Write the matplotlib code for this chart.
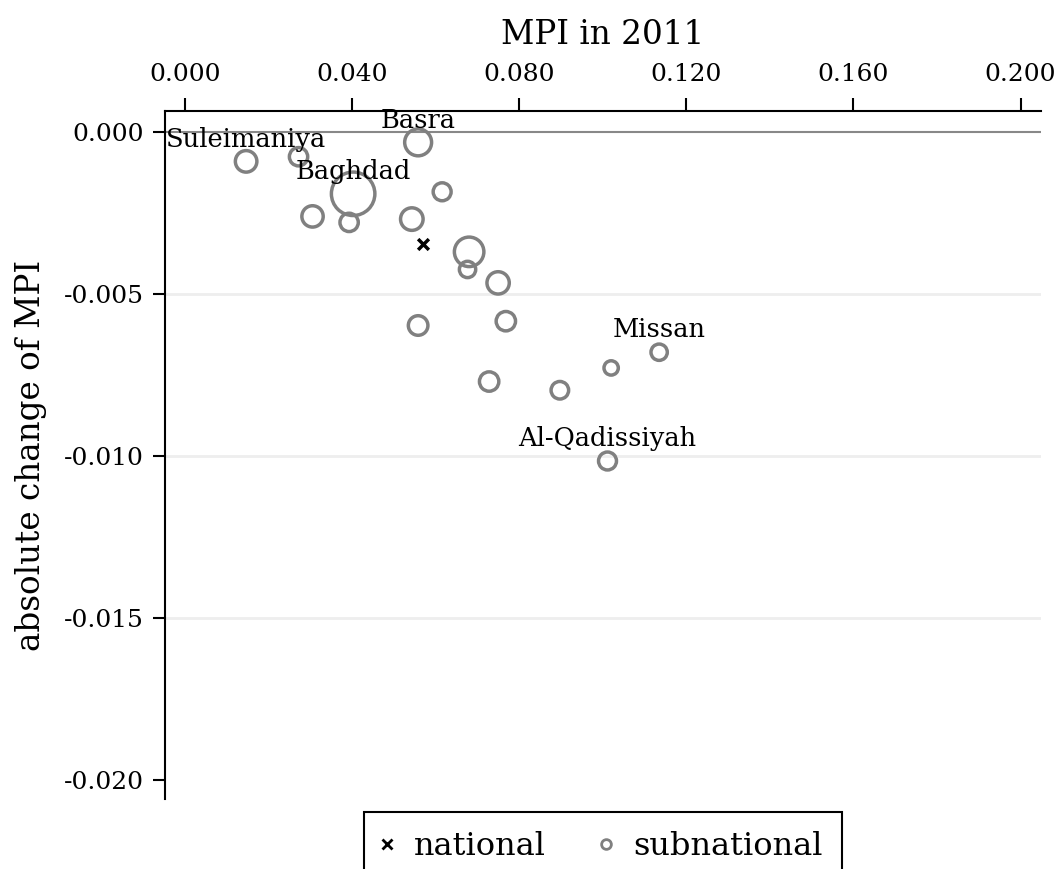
import matplotlib
matplotlib.use("Agg")
import matplotlib.pyplot as plt
from matplotlib.lines import Line2D

plt.rcParams['font.family'] = 'DejaVu Serif'

# subnational regions: MPI in 2011, absolute change, population (millions)
mpi_2011 = [0.0146, 0.02715, 0.05578, 0.04022, 0.06153, 0.0305, 0.03926, 0.05427,
            0.06799, 0.06761, 0.07493, 0.05578, 0.07678, 0.07278, 0.08971,
            0.10199, 0.11348, 0.10112]
mpi_change = [-0.000915, -0.000772, -0.000328, -0.001916, -0.001854, -0.002614,
              -0.002799, -0.002697, -0.003708, -0.004252, -0.004666, -0.005982,
              -0.005849, -0.007712, -0.007981, -0.007292, -0.006807, -0.010165]
pop = [1.74, 1.26, 2.72, 7.1, 1.21, 1.71, 1.26, 1.91, 3.27, 1.0, 1.87, 1.44,
       1.41, 1.41, 1.16, 0.77, 1.0, 1.21]
names = {0: "Suleimaniya", 2: "Basra", 3: "Baghdad", 16: "Missan", 17: "Al-Qadissiyah"}

nat_mpi = 0.05698
nat_change = -0.003479

xticks = [0.0, 0.04, 0.08, 0.12, 0.16, 0.2]
yticks = [0.0, -0.005, -0.010, -0.015, -0.020]

fig = plt.figure(figsize=(10.6, 8.69), dpi=100)
ax = fig.add_axes([165/1060, 1 - 799/869, (1041-165)/1060, (799-111)/869])

ax.set_xlim(-0.00482, 0.2049)
ax.set_ylim(-0.0206, 0.00064)

for t in yticks[1:-1]:
    ax.axhline(t, color='#eeeeee', lw=2, zorder=0)
ax.axhline(0, color='#888888', lw=1.5, zorder=1)

ax.scatter(mpi_2011, mpi_change, s=[p*138 for p in pop], facecolors='none',
           edgecolors='#808080', linewidths=2.5, zorder=3)
ax.scatter([nat_mpi], [nat_change], marker='x', color='black', s=60, linewidths=2.5, zorder=4)

for i, name in names.items():
    ax.annotate(name, (mpi_2011[i], mpi_change[i]), xytext=(0, 16), textcoords='offset points',
                ha='center', va='center', fontsize=18.5, zorder=5)

ax.xaxis.tick_top()
ax.xaxis.set_label_position('top')
ax.set_xticks(xticks)
ax.set_xticklabels(["%.3f" % v for v in xticks])
ax.set_yticks(yticks)
ax.set_yticklabels(["%.3f" % v for v in yticks])
ax.tick_params(axis='both', labelsize=18, width=1.5, direction='out')
ax.tick_params(axis='x', length=9.4, pad=8.5)
ax.tick_params(axis='y', length=8.5, pad=6.5)
ax.set_xlabel("MPI in 2011", fontsize=23.5, labelpad=14)
ax.set_ylabel("absolute change of MPI", fontsize=23.5, labelpad=12)

for s in ['right', 'bottom']:
    ax.spines[s].set_visible(False)
for s in ['top', 'left']:
    ax.spines[s].set_linewidth(1.5)

handles = [Line2D([], [], marker='x', color='black', ls='none', markersize=7, markeredgewidth=2),
           Line2D([], [], marker='o', color='#808080', markerfacecolor='none', ls='none',
                  markersize=7, markeredgewidth=2)]
leg = fig.legend(handles, ["national", "subnational"], loc='upper center',
                 bbox_to_anchor=(603/1060, 1 - 812/869), borderaxespad=0, ncol=2, fontsize=23,
                 frameon=True, fancybox=False, edgecolor='black', framealpha=1,
                 handlelength=0.2, handletextpad=0.75, columnspacing=1.78, borderpad=0.6)
leg.get_frame().set_linewidth(1.5)

fig.savefig("out.png", dpi=100)
